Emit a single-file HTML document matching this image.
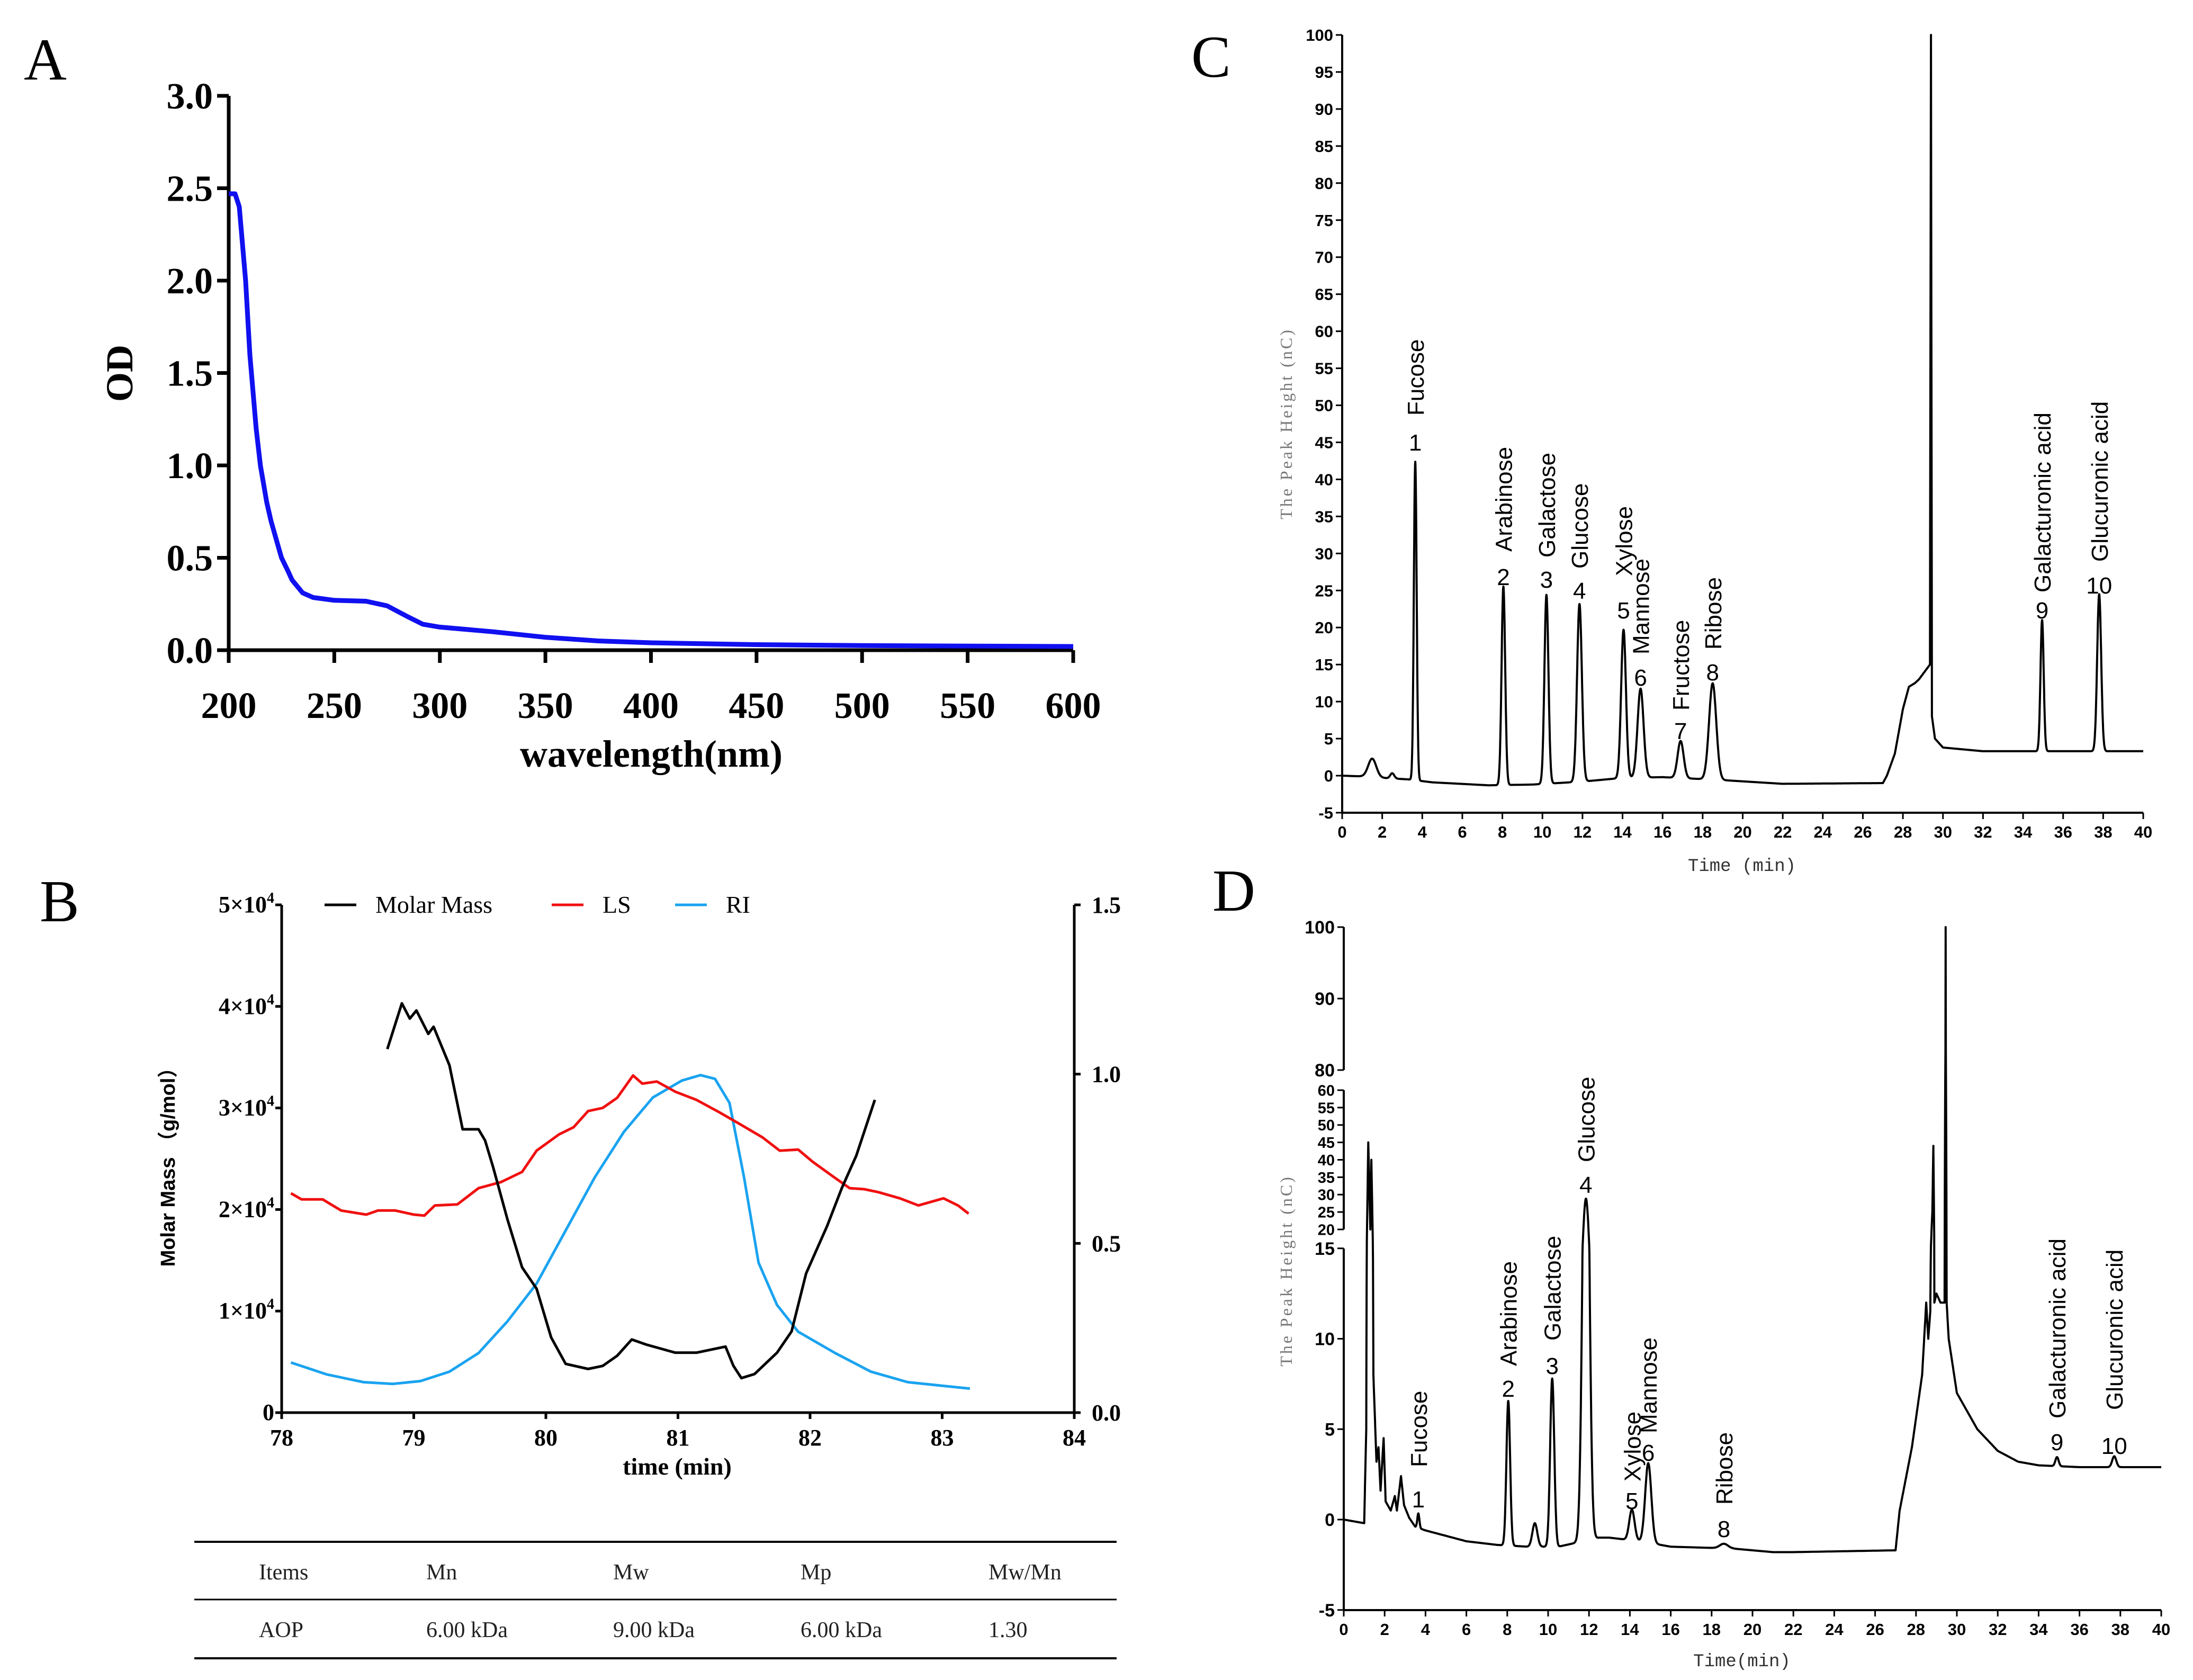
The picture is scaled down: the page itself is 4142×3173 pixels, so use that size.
<!DOCTYPE html>
<html><head><meta charset="utf-8"><style>
html,body{margin:0;padding:0;background:#fff;}
svg{display:block;}
.ser{font-family:"Liberation Serif",serif;}
.san{font-family:"Liberation Sans Narrow","Liberation Sans",sans-serif;}
.sans{font-family:"Liberation Sans",sans-serif;}
</style></head><body>
<svg id="fig" width="4142" height="3173" viewBox="0 0 4142 3173" xmlns="http://www.w3.org/2000/svg">
<rect width="4142" height="3173" fill="#fff"/>
<g class="ser" font-size="112">
<text x="45" y="150">A</text>
<text x="75" y="1740">B</text>
<text x="2250" y="145">C</text>
<text x="2290" y="1720">D</text>
</g>
<g id="pa"></g>
<g id="pb"></g>
<g id="pc"></g>
<g id="pd"></g>
<g id="tbl" class="ser" font-size="42" fill="#222">
<line x1="367" y1="2912" x2="2109" y2="2912" stroke="#000" stroke-width="4"/>
<line x1="367" y1="3021" x2="2109" y2="3021" stroke="#000" stroke-width="3"/>
<line x1="367" y1="3132" x2="2109" y2="3132" stroke="#000" stroke-width="4"/>
<text x="489" y="2983">Items</text>
<text x="805" y="2983">Mn</text>
<text x="1158" y="2983">Mw</text>
<text x="1512" y="2983">Mp</text>
<text x="1867" y="2983">Mw/Mn</text>
<text x="489" y="3092">AOP</text>
<text x="805" y="3092">6.00 kDa</text>
<text x="1158" y="3092">9.00 kDa</text>
<text x="1512" y="3092">6.00 kDa</text>
<text x="1867" y="3092">1.30</text>
</g>
</svg>
<script>
// ---------- Panel A data ----------
const aWavelength = [200,203,205,208,210,213,215,218,220,223,225,228,230,235,240,250,265,275,285,292,300,325,350,375,400,450,500,600];
const aOD = [2.47,2.47,2.40,2.00,1.60,1.20,1.00,0.80,0.70,0.58,0.50,0.43,0.38,0.31,0.285,0.27,0.265,0.24,0.18,0.14,0.125,0.10,0.07,0.05,0.04,0.03,0.025,0.02];
const aXTicks = [200,250,300,350,400,450,500,550,600];
const aYTicks = ["0.0","0.5","1.0","1.5","2.0","2.5","3.0"];

// ---------- Panel B data ----------
const bMMTime = [78.80,78.91,78.97,79.02,79.11,79.15,79.27,79.37,79.49,79.54,79.60,79.71,79.82,79.93,80.04,80.15,80.32,80.43,80.54,80.65,80.76,80.98,81.14,81.36,81.42,81.48,81.58,81.75,81.86,81.97,82.13,82.24,82.35,82.49];
const bMMValue = [3.58,4.03,3.88,3.96,3.73,3.80,3.42,2.79,2.79,2.68,2.42,1.90,1.43,1.22,0.74,0.48,0.43,0.46,0.56,0.72,0.67,0.59,0.59,0.65,0.46,0.34,0.38,0.59,0.80,1.37,1.84,2.21,2.53,3.08];
const bLSTime = [78.07,78.15,78.31,78.45,78.64,78.73,78.86,79.00,79.08,79.16,79.33,79.49,79.66,79.82,79.93,80.10,80.21,80.32,80.43,80.54,80.66,80.73,80.84,80.98,81.14,81.31,81.47,81.64,81.77,81.91,82.02,82.19,82.30,82.41,82.52,82.68,82.82,83.01,83.12,83.20];
const bLSValue = [2.16,2.10,2.10,1.99,1.95,1.99,1.99,1.95,1.94,2.04,2.05,2.21,2.27,2.37,2.58,2.74,2.81,2.97,3.00,3.10,3.32,3.24,3.26,3.16,3.08,2.96,2.84,2.71,2.58,2.59,2.47,2.31,2.21,2.20,2.17,2.11,2.04,2.11,2.04,1.96];
const bRITime = [78.07,78.34,78.62,78.84,79.05,79.27,79.49,79.71,79.93,80.15,80.37,80.59,80.81,81.03,81.17,81.28,81.39,81.50,81.61,81.75,81.91,82.19,82.46,82.74,83.01,83.21];
const bRIValue = [0.148,0.113,0.090,0.085,0.093,0.121,0.176,0.270,0.381,0.538,0.695,0.829,0.931,0.981,0.997,0.986,0.915,0.695,0.443,0.318,0.239,0.176,0.121,0.090,0.079,0.071];
const bXTicks = [78,79,80,81,82,83,84];
const bLeftTicks = [0,1,2,3,4,5];
const bRightTicks = ["0.0","0.5","1.0","1.5"];

// ---------- Panel C data ----------
const cBaseT = [0,1.0,2.0,3.3,4.5,7.3,9.5,12,14,16,19,22,27,27.2,27.6,28,28.3,28.6,28.8,29.35,29.4,29.45,29.6,30,32,40];
const cBaseV = [0,-0.1,-0.3,-0.5,-0.9,-1.3,-1.2,-0.8,-0.3,-0.2,-0.6,-1.1,-1.0,0,3,9,12,12.5,13,15,100,8,5,3.8,3.3,3.3];
const cPeakT = [1.5,2.5,3.65,8.05,10.2,11.85,14.05,14.9,16.9,18.5,34.95,37.8];
const cPeakH = [2.5,0.7,43,26.8,25.5,24,20,12,5,13,17.7,21.2];
const cPeakW = [0.2,0.1,0.07,0.09,0.1,0.12,0.12,0.15,0.15,0.18,0.08,0.1];
const cYTicks = [-5,0,5,10,15,20,25,30,35,40,45,50,55,60,65,70,75,80,85,90,95,100];
const cXTicks = [0,2,4,6,8,10,12,14,16,18,20,22,24,26,28,30,32,34,36,38,40];

// ---------- Panel D data ----------
const dBaseT = [0,1.0,1.1,1.2,1.3,1.35,1.45,1.6,1.7,1.8,1.95,2.05,2.3,2.5,2.6,2.8,2.95,3.2,3.5,4,6,7.5,9,10.5,12.5,13,14.5,16,19,21,22,27,27.2,27.8,28.3,28.5,28.6,28.7,28.8,28.85,28.9,29.0,29.2,29.4,29.45,29.5,29.6,30,31,32,33,34,36,40];
const dBaseV = [0,-0.2,5,45,20,40,8,3.2,4,1.6,4.5,1.0,0.5,1.3,0.5,2.4,0.8,0.1,-0.4,-0.6,-1.2,-1.4,-1.5,-1.5,-1.0,-1.0,-1.2,-1.5,-1.6,-1.8,-1.8,-1.7,0.5,4,8,12,10,11.5,25,44,12,12.5,12,12,100,12,10,7,5,3.8,3.2,3.0,2.9,2.9];
const dPeakT = [3.65,8.05,9.35,10.2,11.85,14.1,14.9,18.6,34.9,37.7];
const dPeakH = [0.8,8,1.3,9.3,30,1.7,4.4,0.25,0.5,0.6];
const dPeakW = [0.05,0.09,0.12,0.1,0.15,0.13,0.15,0.2,0.08,0.1];
const dYTicksLow = [-5,0,5,10,15];
const dYTicksMid = [20,25,30,35,40,45,50,55,60];
const dYTicksHigh = [80,90,100];
const dXTicks = [0,2,4,6,8,10,12,14,16,18,20,22,24,26,28,30,32,34,36,38,40];

const cLabels = [
 ["1","Fucose",3.65,836,785],["2","Arabinose",8.05,1090,1042],["3","Galactose",10.2,1095,1053],["4","Glucose",11.85,1116,1074],
 ["5","Xylose",14.05,1153,1088],["6","Mannose",14.9,1280,1236],["7","Fructose",16.9,1381,1342],["8","Ribose",18.5,1270,1227],
 ["9","Galacturonic acid",34.95,1153,1119],["10","Glucuronic acid",37.8,1106,1061]];
const dLabels = [
 ["1","Fucose",3.65,2832,2771],["2","Arabinose",8.05,2623,2580],["3","Galactose",10.2,2580,2532],["4","Glucose",11.85,2238,2195],
 ["5","Xylose",14.1,2835,2798],["6","Mannose",14.9,2744,2707],["8","Ribose",18.6,2888,2842],
 ["9","Galacturonic acid",34.9,2724,2679],["10","Glucuronic acid",37.7,2731,2663]];

const NS="http://www.w3.org/2000/svg";
function mk(tag, attrs, parent){const e=document.createElementNS(NS,tag);for(const k in attrs)e.setAttribute(k,attrs[k]);parent.appendChild(e);return e;}
function txt(parent,x,y,s,attrs){const t=mk('text',Object.assign({x:x,y:y},attrs||{}),parent);t.textContent=s;return t;}
function interp(ts,vs,t){if(t<=ts[0])return vs[0];for(let i=1;i<ts.length;i++){if(t<=ts[i]){const f=(t-ts[i-1])/(ts[i]-ts[i-1]);return vs[i-1]+f*(vs[i]-vs[i-1]);}}return vs[vs.length-1];}
function chrom(bt,bv,pt,ph,pw,t){let v=interp(bt,bv,t);for(let i=0;i<pt.length;i++){v+=ph[i]*Math.exp(-Math.pow(t-pt[i],2)/(2*pw[i]*pw[i]));}return v;}

// ---------- Panel A ----------
(function(){
 const g=document.getElementById('pa');
 const xA=w=>432+(w-200)/400*(2027-432), yA=v=>1228-v/3*(1228-181);
 let d='';aWavelength.forEach((w,i)=>{d+=(i?'L':'M')+xA(w).toFixed(1)+' '+yA(aOD[i]).toFixed(1);});
 const ax=mk('path',{d:'M432 181 L432 1228 L2027 1228',fill:'none',stroke:'#000','stroke-width':7},g);
 
 aYTicks.forEach(s=>{const v=parseFloat(s);mk('line',{x1:410,x2:432,y1:yA(v),y2:yA(v),stroke:'#000','stroke-width':7},g);
  const t=txt(g,402,yA(v)+24,s,{'text-anchor':'end','font-size':70,'font-weight':'bold',class:'ser'});
  });
 aXTicks.forEach(w=>{mk('line',{x1:xA(w),x2:xA(w),y1:1228,y2:1252,stroke:'#000','stroke-width':7},g);
  const t=txt(g,xA(w),1356,String(w),{'text-anchor':'middle','font-size':70,'font-weight':'bold',class:'ser'});
  });
 const xt=txt(g,1230,1448,'wavelength(nm)',{'text-anchor':'middle','font-size':72,'font-weight':'bold',class:'ser'});
 
 const yt=txt(g,0,0,'OD',{'text-anchor':'middle','font-size':72,'font-weight':'bold',class:'ser',transform:'translate(250 705) rotate(-90)'});
 
 const p=mk('path',{d:d,fill:'none',stroke:'#1010f0','stroke-width':9,'stroke-linejoin':'round'},g);
 
})();

// ---------- Panel B ----------
(function(){
 const g=document.getElementById('pb');
 const X0=532;
 const xB=t=>X0+(t-78)/6*(2029-X0), yL=v=>2668-v/5*(2668-1709), yR=v=>2668-v/1.5*(2668-1709);
 const ax=mk('path',{d:'M'+X0+' 1709 L'+X0+' 2668 L2029 2668 M2029 1709 L2029 2668',fill:'none',stroke:'#000','stroke-width':5},g);
 
 bLeftTicks.forEach(v=>{mk('line',{x1:X0-12,x2:X0,y1:yL(v),y2:yL(v),stroke:'#000','stroke-width':5},g);
  const t=mk('text',{x:X0-14,y:yL(v)+14,'text-anchor':'end','font-size':44,'font-weight':'bold',class:'ser'},g);
  if(v===0){t.textContent='0';}else{t.textContent=v+'×10';const s=mk('tspan',{dy:-18,'font-size':28},t);s.textContent='4';}
  });
 bRightTicks.forEach(s=>{const v=parseFloat(s);mk('line',{x1:2029,x2:2041,y1:yR(v),y2:yR(v),stroke:'#000','stroke-width':5},g);
  const t=txt(g,2062,yR(v)+15,s,{'font-size':44,'font-weight':'bold',class:'ser'});
  });
 bXTicks.forEach(v=>{mk('line',{x1:xB(v),x2:xB(v),y1:2668,y2:2680,stroke:'#000','stroke-width':5},g);
  const t=txt(g,xB(v),2730,String(v),{'text-anchor':'middle','font-size':44,'font-weight':'bold',class:'ser'});
  });
 const xt=txt(g,1279,2785,'time (min)',{'text-anchor':'middle','font-size':46,'font-weight':'bold',class:'ser'});
 
 const yt=txt(g,0,0,'Molar Mass （g/mol）',{'text-anchor':'middle','font-size':38,'font-weight':'bold',style:'font-family:"Liberation Sans","Noto Sans CJK SC",sans-serif',transform:'translate(330 2195) rotate(-90)'});
 
 function line(ts,vs,yf,col,name){let d='';ts.forEach((t,i)=>{d+=(i?'L':'M')+xB(t).toFixed(1)+' '+yf(vs[i]).toFixed(1);});
  const p=mk('path',{d:d,fill:'none',stroke:col,'stroke-width':5,'stroke-linejoin':'round'},g);
  }
 line(bRITime,bRIValue,yR,'#1aa3f0','b-ri-line');
 line(bLSTime,bLSValue,yL,'#f01010','b-ls-line');
 line(bMMTime,bMMValue,yL,'#000','b-molar-mass-line');
 const leg=[[613,'#000','Molar Mass'],[1042,'#f01010','LS'],[1275,'#1aa3f0','RI']];
 leg.forEach(l=>{const lg=mk('g',{},g);
  mk('line',{x1:l[0],x2:l[0]+60,y1:1709,y2:1709,stroke:l[1],'stroke-width':5},lg);
  txt(lg,l[0]+96,1724,l[2],{'font-size':46,class:'ser'});});
})();

// ---------- Panel C ----------
(function(){
 const g=document.getElementById('pc');
 const xC=t=>2535+t/40*(4048-2535), yC=v=>1465-v*13.99;
 const ax=mk('path',{d:'M2535 66 L2535 1535 L4048 1535',fill:'none',stroke:'#000','stroke-width':4},g);
 
 cYTicks.forEach(v=>{mk('line',{x1:2523,x2:2535,y1:yC(v),y2:yC(v),stroke:'#000','stroke-width':3},g);
  const t=txt(g,2518,yC(v)+11,String(v),{'text-anchor':'end','font-size':31,'font-weight':'bold',class:'san'});
  });
 cXTicks.forEach(v=>{mk('line',{x1:xC(v),x2:xC(v),y1:1535,y2:1547,stroke:'#000','stroke-width':3},g);
  const t=txt(g,xC(v),1582,String(v),{'text-anchor':'middle','font-size':31,'font-weight':'bold',class:'san'});
  });
 const xt=txt(g,3290,1645,'Time (min)',{'text-anchor':'middle','font-size':34,fill:'#333',style:'font-family:"Liberation Mono",monospace'});
 
 const yt=txt(g,0,0,'The Peak Height (nC)',{'text-anchor':'middle','font-size':32,fill:'#777','letter-spacing':4,class:'ser',transform:'translate(2440 800) rotate(-90)'});
 
 let d='';for(let i=0;i<=4000;i++){const t=i/100;d+=(i?'L':'M')+xC(t).toFixed(1)+' '+yC(chrom(cBaseT,cBaseV,cPeakT,cPeakH,cPeakW,t)).toFixed(1);}
 const p=mk('path',{d:d,fill:'none',stroke:'#000','stroke-width':4,'stroke-linejoin':'round'},g);
 
 cLabels.forEach(l=>{const lg=mk('g',{},g);
  txt(lg,xC(l[2]),l[3]+15,l[0],{'text-anchor':'middle','font-size':44,class:'sans'});
  txt(lg,0,0,l[1],{'font-size':44,class:'sans',transform:'translate('+(xC(l[2])+16)+' '+l[4]+') rotate(-90)'});});
})();

// ---------- Panel D ----------
(function(){
 const g=document.getElementById('pd');
 const xD=t=>2538+t/40*(4082-2538);
 function yD(v){if(v<=15)return 2870-v*34.15;if(v<20)return 2358-(v-15)/5*36;if(v<=60)return 2322-(v-20)*6.575;if(v<80)return 2059-(v-60)/20*38;return 2021-(v-80)*13.5;}
 const ax=mk('path',{d:'M2538 3041 L2538 2358 M2538 2322 L2538 2059 M2538 2021 L2538 1751 M2538 3041 L4082 3041',fill:'none',stroke:'#000','stroke-width':4},g);
 
 function yt(arr,fs){arr.forEach(v=>{mk('line',{x1:2526,x2:2538,y1:yD(v),y2:yD(v),stroke:'#000','stroke-width':3},g);
  const t=txt(g,2521,yD(v)+fs*0.36,String(v),{'text-anchor':'end','font-size':fs,'font-weight':'bold',class:'san'});
  });}
 yt(dYTicksLow,34);yt(dYTicksMid,29);yt(dYTicksHigh,34);
 dXTicks.forEach(v=>{mk('line',{x1:xD(v),x2:xD(v),y1:3041,y2:3053,stroke:'#000','stroke-width':3},g);
  const t=txt(g,xD(v),3088,String(v),{'text-anchor':'middle','font-size':31,'font-weight':'bold',class:'san'});
  });
 const xt=txt(g,3290,3147,'Time(min)',{'text-anchor':'middle','font-size':34,fill:'#333',style:'font-family:"Liberation Mono",monospace'});
 
 const ytt=txt(g,0,0,'The Peak Height (nC)',{'text-anchor':'middle','font-size':32,fill:'#777','letter-spacing':4,class:'ser',transform:'translate(2440 2400) rotate(-90)'});
 
 let d='';for(let i=0;i<=4000;i++){const t=i/100;d+=(i?'L':'M')+xD(t).toFixed(1)+' '+yD(chrom(dBaseT,dBaseV,dPeakT,dPeakH,dPeakW,t)).toFixed(1);}
 const p=mk('path',{d:d,fill:'none',stroke:'#000','stroke-width':4,'stroke-linejoin':'round'},g);
 
 dLabels.forEach(l=>{const lg=mk('g',{},g);
  txt(lg,xD(l[2]),l[3]+15,l[0],{'text-anchor':'middle','font-size':44,class:'sans'});
  txt(lg,0,0,l[1],{'font-size':44,class:'sans',transform:'translate('+(xD(l[2])+16)+' '+l[4]+') rotate(-90)'});});
})();
</script>
</body></html>
